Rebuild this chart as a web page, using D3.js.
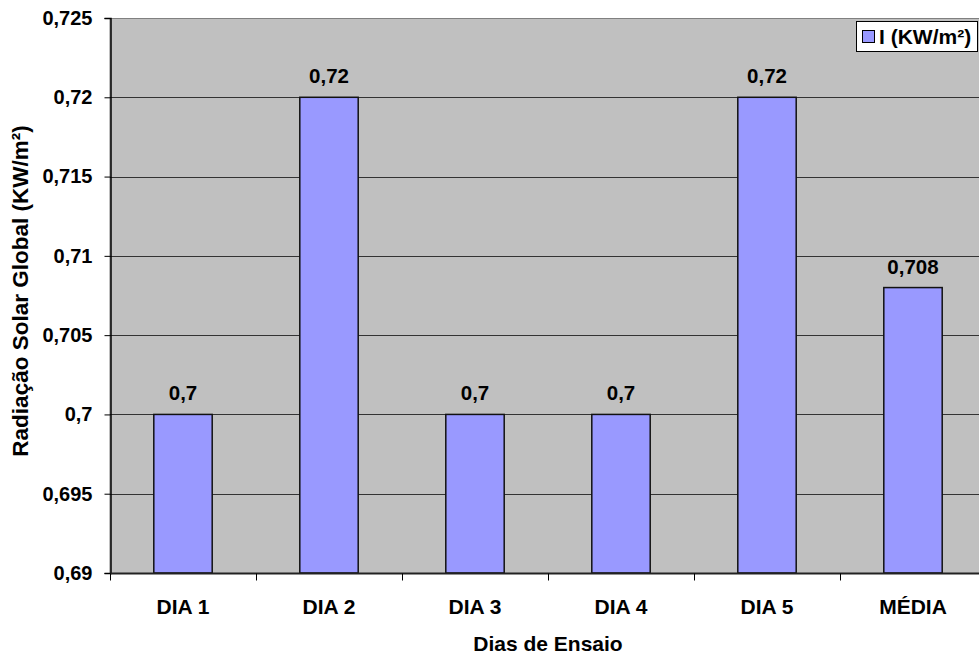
<!DOCTYPE html>
<html><head><meta charset="utf-8">
<script src="https://cdn.jsdelivr.net/npm/d3@7"></script>
<style>body{margin:0;background:#fff}svg{display:block}text{font-family:Arial,"Liberation Sans",sans-serif;font-weight:bold;fill:#000}</style>
</head><body>
<script>
const categories = ["DIA 1","DIA 2","DIA 3","DIA 4","DIA 5","MÉDIA"];
const values = [0.7, 0.72, 0.7, 0.7, 0.72, 0.708];
const valueLabels = ["0,7","0,72","0,7","0,7","0,72","0,708"];
const yTicks = [0.69,0.695,0.7,0.705,0.71,0.715,0.72,0.725];
const yTickLabels = ["0,69","0,695","0,7","0,705","0,71","0,715","0,72","0,725"];
const seriesName = "I (KW/m²)";

const W = 979, H = 657;
const m = {l:110, t:18, r:986, b:573};
const svg = d3.select("body").append("svg").attr("width",W).attr("height",H);

const x = d3.scaleBand().domain(categories).range([m.l,m.r]).paddingInner(0.6).paddingOuter(0.3);
const xb = d3.scaleBand().domain(categories).range([m.l,m.r]);
const y = d3.scaleLinear().domain([0.69,0.725]).range([m.b,m.t]);

svg.append("rect").attr("x",m.l).attr("y",m.t+0.5).attr("width",m.r-m.l).attr("height",m.b-m.t)
  .attr("fill","#c0c0c0").attr("stroke","#808080").attr("stroke-width",1);

// gridlines
svg.append("g").selectAll("line").data(yTicks.slice(1,-1)).join("line")
  .attr("x1",m.l).attr("x2",m.r).attr("y1",d=>Math.round(y(d))+0.5).attr("y2",d=>Math.round(y(d))+0.5)
  .attr("stroke","#333").attr("stroke-width",1);

// bars
svg.append("g").selectAll("rect").data(values).join("rect")
  .attr("x",(d,i)=>x(categories[i])).attr("width",x.bandwidth())
  .attr("y",d=>y(d)).attr("height",d=>y(0.69)-y(d))
  .attr("fill","#9999ff").attr("stroke","#111").attr("stroke-width",1.5);

// value labels
svg.append("g").selectAll("text").data(values).join("text")
  .attr("x",(d,i)=>x(categories[i])+x.bandwidth()/2).attr("y",d=>y(d)-14)
  .attr("text-anchor","middle").attr("font-size",20.5).text((d,i)=>valueLabels[i]);

// y axis
const yAxis = d3.axisLeft(y).tickValues(yTicks).tickSize(6).tickPadding(12)
  .tickFormat((d,i)=>yTickLabels[i]);
const gy = svg.append("g").attr("transform",`translate(${m.l+0.5},0)`).call(yAxis);
gy.select(".domain").attr("stroke","#000").attr("stroke-width",1.5);
gy.selectAll(".tick line").attr("stroke","#000");
gy.selectAll("text").attr("font-size",20).attr("font-family",'Arial,"Liberation Sans",sans-serif').attr("font-weight","bold").attr("fill","#000");

// x axis
const gx = svg.append("g").attr("transform",`translate(0,${m.b+0.5})`);
gx.append("line").attr("x1",m.l).attr("x2",m.r).attr("stroke","#222").attr("stroke-width",2);
gx.selectAll(".t").data(categories.concat(["_end"])).join("line").attr("class","t")
  .attr("x1",(d,i)=>Math.round(m.l+i*xb.bandwidth())+0.5).attr("x2",(d,i)=>Math.round(m.l+i*xb.bandwidth())+0.5)
  .attr("y1",0).attr("y2",7).attr("stroke","#000");
gx.selectAll("text").data(categories).join("text")
  .attr("x",d=>xb(d)+xb.bandwidth()/2).attr("y",40)
  .attr("text-anchor","middle").attr("font-size",21).text(d=>d);

// axis titles
svg.append("text").attr("x",(m.l+m.r)/2).attr("y",651).attr("text-anchor","middle")
  .attr("font-size",21).text("Dias de Ensaio");
svg.append("text").attr("transform",`translate(28,291) rotate(-90)`)
  .attr("text-anchor","middle").attr("font-size",22.5).text("Radiação Solar Global (KW/m²)");

// legend
const lg = svg.append("g");
lg.append("rect").attr("x",856.5).attr("y",21.5).attr("width",121).attr("height",30)
  .attr("fill","#fff").attr("stroke","#000").attr("stroke-width",1);
lg.append("rect").attr("x",862.5).attr("y",30.5).attr("width",12).attr("height",12)
  .attr("fill","#9999ff").attr("stroke","#000").attr("stroke-width",1);
lg.append("text").attr("x",879).attr("y",44).attr("font-size",21).text(seriesName);
</script>
</body></html>
